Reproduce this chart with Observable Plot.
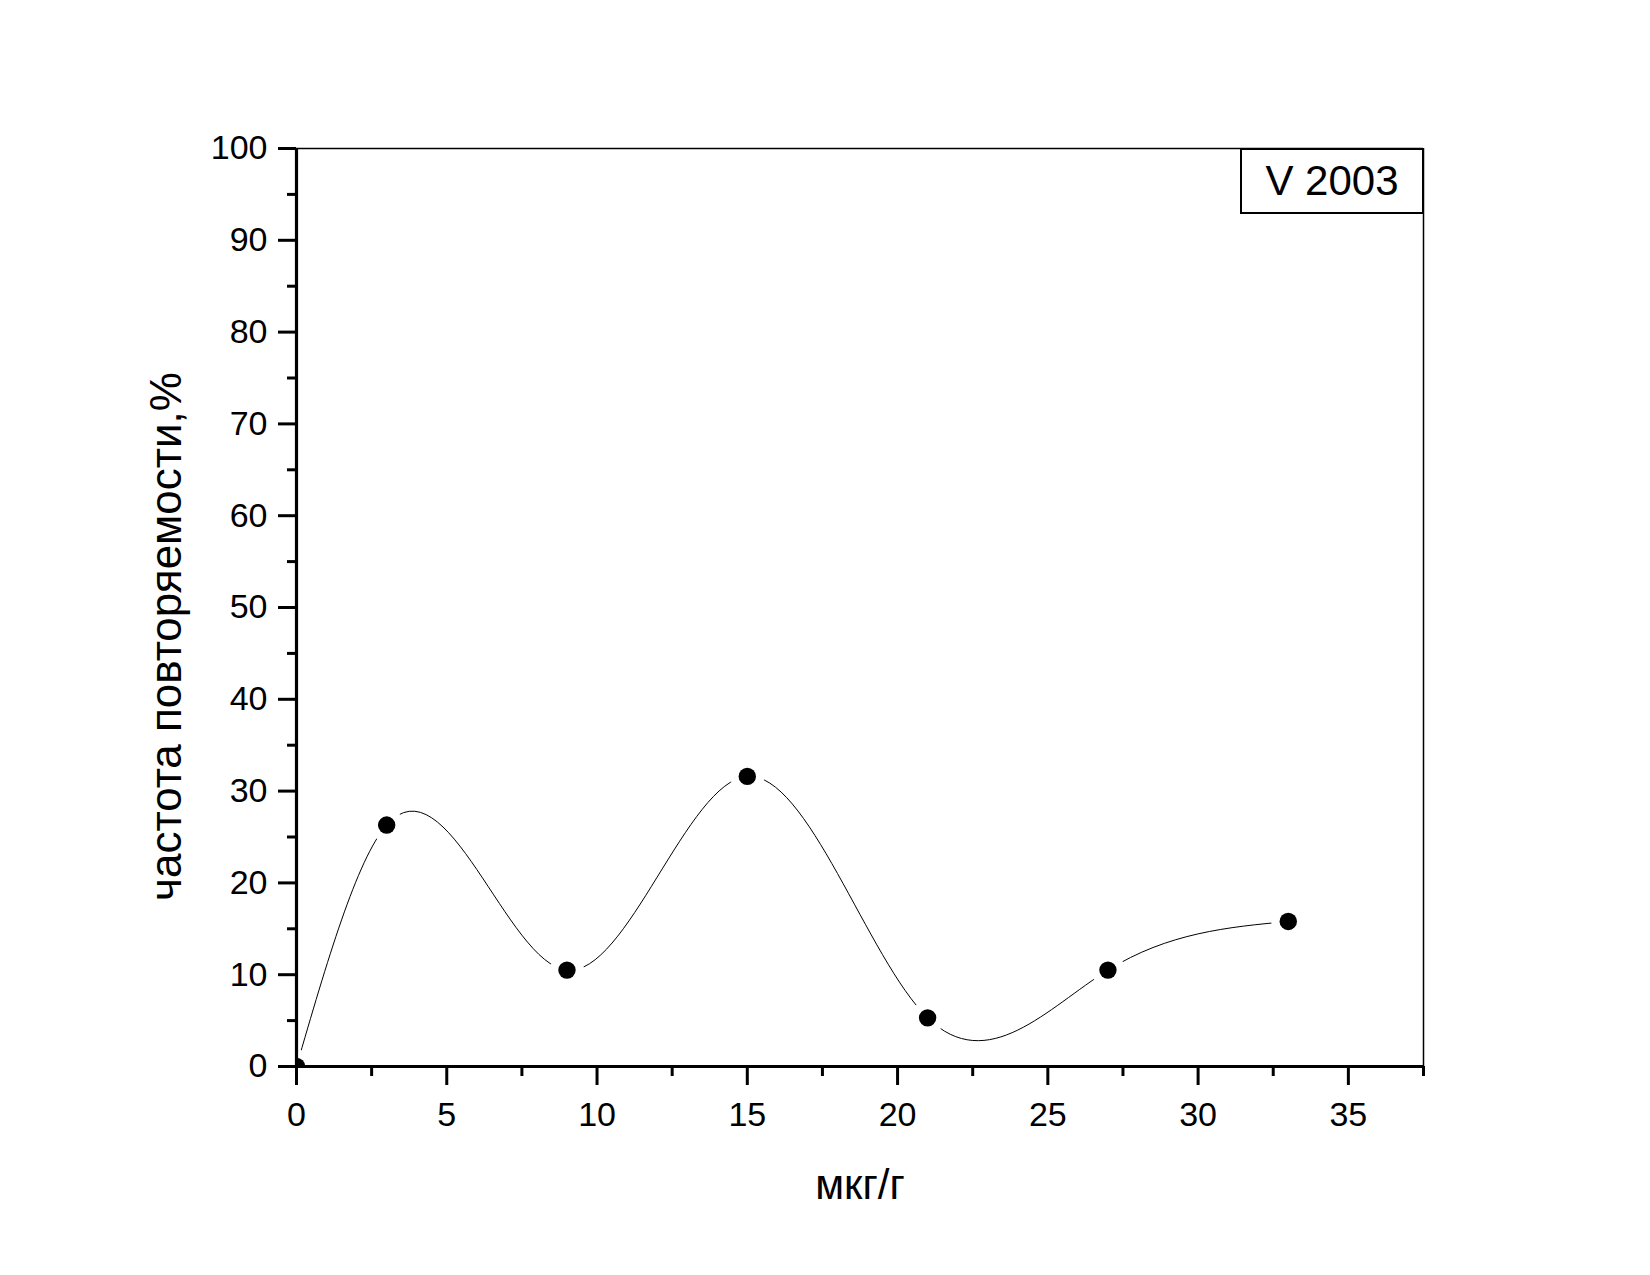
<!DOCTYPE html>
<html>
<head>
<meta charset="utf-8">
<script src="https://cdn.jsdelivr.net/npm/d3@7"></script>
<script src="https://cdn.jsdelivr.net/npm/@observablehq/plot@0.6"></script>
<style>
  html, body { margin: 0; padding: 0; background: #fff; }
  svg { display: block; }
</style>
</head>
<body>
<div id="chart"></div>
<script>
// Data
const conc = [0, 3, 9, 15, 21, 27, 33];
const freq = [0, 26.3, 10.5, 31.6, 5.3, 10.5, 15.8];
const xMajor = [0, 5, 10, 15, 20, 25, 30, 35];
const xMinor = [2.5, 7.5, 12.5, 17.5, 22.5, 27.5, 32.5, 37.5];
const yMajor = [0, 10, 20, 30, 40, 50, 60, 70, 80, 90, 100];
const yMinor = [5, 15, 25, 35, 45, 55, 65, 75, 85, 95];
const legendLabel = "V 2003";
const xLabel = "мкг/г";
const yLabel = "частота повторяемости,%";

const data = conc.map((c, i) => ({ c, f: freq[i] }));

// Natural cubic spline parameterised by x (as in Origin's "Spline" connect)
function curveNaturalX(context) {
  let xs, ys;
  return {
    areaStart() {}, areaEnd() {},
    lineStart() { xs = []; ys = []; },
    point(x, y) { xs.push(+x); ys.push(+y); },
    lineEnd() {
      const n = xs.length;
      if (!n) return;
      context.moveTo(xs[0], ys[0]);
      if (n === 1) return;
      if (n === 2) { context.lineTo(xs[1], ys[1]); return; }
      const h = [];
      for (let i = 0; i < n - 1; i++) h.push(xs[i + 1] - xs[i]);
      const M = new Array(n).fill(0);
      const m = n - 2;
      const a = [], b = [], c = [], d = [];
      for (let k = 0; k < m; k++) {
        const i = k + 1;
        a.push(h[i - 1]);
        b.push(2 * (h[i - 1] + h[i]));
        c.push(h[i]);
        d.push(6 * ((ys[i + 1] - ys[i]) / h[i] - (ys[i] - ys[i - 1]) / h[i - 1]));
      }
      for (let k = 1; k < m; k++) {
        const w = a[k] / b[k - 1];
        b[k] -= w * c[k - 1];
        d[k] -= w * d[k - 1];
      }
      const sol = new Array(m);
      sol[m - 1] = d[m - 1] / b[m - 1];
      for (let k = m - 2; k >= 0; k--) sol[k] = (d[k] - c[k] * sol[k + 1]) / b[k];
      for (let k = 0; k < m; k++) M[k + 1] = sol[k];
      for (let i = 0; i < n - 1; i++) {
        const hi = h[i];
        const s = (ys[i + 1] - ys[i]) / hi;
        const m0 = s - hi * (2 * M[i] + M[i + 1]) / 6;
        const m1 = s + hi * (M[i] + 2 * M[i + 1]) / 6;
        context.bezierCurveTo(
          xs[i] + hi / 3, ys[i] + m0 * hi / 3,
          xs[i + 1] - hi / 3, ys[i + 1] - m1 * hi / 3,
          xs[i + 1], ys[i + 1]
        );
      }
    }
  };
}

const legendMark = (index, scales, values, dims) => {
  const right = dims.width - dims.marginRight;
  const top = dims.marginTop;
  const w = 182, h = 64;
  const g = d3.create("svg:g");
  g.append("rect")
    .attr("x", right - w).attr("y", top + 1)
    .attr("width", w).attr("height", h)
    .attr("fill", "white").attr("stroke", "black").attr("stroke-width", 2);
  g.append("text")
    .attr("x", right - w / 2).attr("y", top + 47)
    .attr("text-anchor", "middle")
    .attr("font-size", 42)
    .attr("fill", "black")
    .text(legendLabel);
  return g.node();
};

const chart = Plot.plot({
  width: 1650,
  height: 1275,
  marginLeft: 296,
  marginRight: 227,
  marginTop: 148,
  marginBottom: 209,
  style: { fontFamily: "'Liberation Sans', Arial, sans-serif", background: "white", color: "black" },
  x: { domain: [0, 37.5] },
  y: { domain: [0, 100] },
  marks: [
    Plot.line(data, { x: "c", y: "f", curve: curveNaturalX, stroke: "black", strokeWidth: 1, clip: true }),
    Plot.dot(data, { x: "c", y: "f", r: 17, fill: "white", stroke: null, clip: true }),
    Plot.dot(data, { x: "c", y: "f", r: 8.7, fill: "black", stroke: null, clip: true }),
    Plot.ruleY([100], { stroke: "black", strokeWidth: 1.5 }),
    Plot.ruleX([37.5], { stroke: "black", strokeWidth: 1.5 }),
    Plot.ruleY([0], { stroke: "black", strokeWidth: 3.2 }),
    Plot.ruleX([0], { stroke: "black", strokeWidth: 3.2 }),
    Plot.axisX({ ticks: xMajor, tickSize: 19, strokeWidth: 3, tickPadding: 16, fontSize: 34, label: null, tickFormat: d => String(d) }),
    Plot.axisX({ ticks: xMinor, tickSize: 10, strokeWidth: 3, label: null, tickFormat: () => "" }),
    Plot.axisY({ ticks: yMajor, tickSize: 18, strokeWidth: 3, tickPadding: 11, fontSize: 34, label: null, tickFormat: d => String(d) }),
    Plot.axisY({ ticks: yMinor, tickSize: 9, strokeWidth: 3, label: null, tickFormat: () => "" }),
    Plot.text([xLabel], { frameAnchor: "bottom", dy: 119, fontSize: 42, textAnchor: "middle", lineAnchor: "middle", fill: "black" }),
    Plot.text([yLabel], { frameAnchor: "left", dx: -130, dy: 29, rotate: -90, fontSize: 44, textAnchor: "middle", lineAnchor: "middle", fill: "black" }),
    legendMark
  ]
});

document.getElementById("chart").appendChild(chart);
</script>
</body>
</html>
